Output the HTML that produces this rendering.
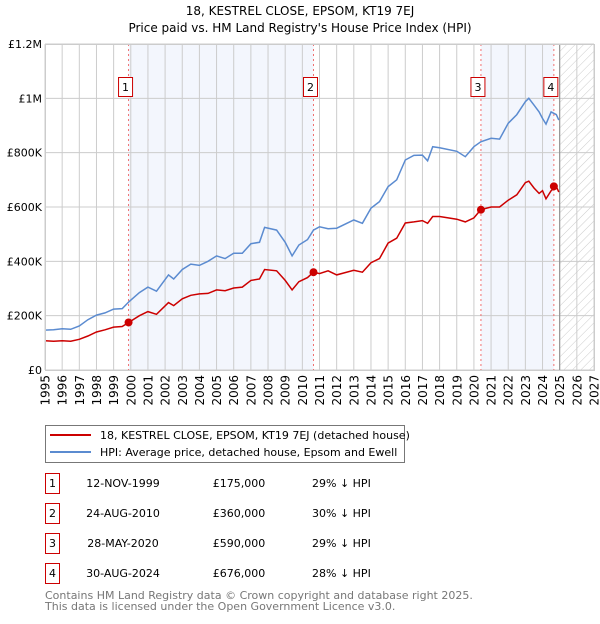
<!DOCTYPE html>
<html><head><meta charset="utf-8"><style>
body{margin:0;background:#fff;font-family:"DejaVu Sans","Liberation Sans",sans-serif;}
svg text{font-family:"DejaVu Sans","Liberation Sans",sans-serif;}
</style></head><body>
<svg id="c" width="600" height="620" viewBox="0 0 600 620" xmlns="http://www.w3.org/2000/svg">
<defs><pattern id="hatch" width="6" height="6" patternUnits="userSpaceOnUse" patternTransform="rotate(45)"><line x1="0" y1="0" x2="0" y2="6" stroke="#ccc" stroke-width="1"/></pattern></defs>
<text x="300" y="15" text-anchor="middle" font-size="12">18, KESTREL CLOSE, EPSOM, KT19 7EJ</text>
<text x="300" y="32" text-anchor="middle" font-size="12">Price paid vs. HM Land Registry's House Price Index (HPI)</text>
<g id="plot"></g>
<g>
<rect x="45.5" y="425.5" width="359" height="37" fill="#fff" stroke="#777"/>
<line x1="50" y1="435" x2="91" y2="435" stroke="#cc0000" stroke-width="2"/>
<text x="100" y="439" font-size="11">18, KESTREL CLOSE, EPSOM, KT19 7EJ (detached house)</text>
<line x1="50" y1="452" x2="91" y2="452" stroke="#5b8bd0" stroke-width="2"/>
<text x="100" y="456" font-size="11">HPI: Average price, detached house, Epsom and Ewell</text>
</g>
<g id="table" font-size="11"></g>
<text x="45" y="599" font-size="11" fill="#777">Contains HM Land Registry data © Crown copyright and database right 2025.</text>
<text x="45" y="610" font-size="11" fill="#777">This data is licensed under the Open Government Licence v3.0.</text>
</svg>
<script>
const hpiYears=[1995,1995.5,1996,1996.5,1997,1997.5,1998,1998.5,1999,1999.5,1999.87,2000.5,2001,2001.5,2002.2,2002.5,2003,2003.5,2004,2004.5,2005,2005.5,2006,2006.5,2007,2007.5,2007.8,2008.5,2009,2009.4,2009.8,2010.3,2010.65,2011,2011.5,2012,2013,2013.5,2014,2014.5,2015,2015.5,2016,2016.5,2017,2017.3,2017.6,2018,2019,2019.5,2020,2020.4,2021,2021.5,2022,2022.5,2023,2023.2,2023.5,2023.8,2024,2024.2,2024.5,2024.8,2024.95];
const hpiValues=[147000,148000,152000,150000,162000,185000,202000,210000,224000,226000,250000,285000,305000,290000,350000,335000,370000,390000,385000,400000,420000,410000,430000,430000,465000,470000,525000,515000,470000,420000,460000,480000,515000,527000,520000,522000,552000,540000,596000,620000,675000,700000,773000,790000,791000,770000,822000,818000,805000,785000,822000,840000,853000,850000,908000,940000,988000,1000000,975000,950000,926000,905000,950000,940000,920000];
const priceYears=hpiYears;
const priceValues=[108000,106000,108000,106000,113000,125000,140000,148000,158000,160000,175000,200000,215000,205000,248000,237000,262000,275000,280000,282000,295000,292000,302000,305000,330000,335000,370000,365000,330000,295000,325000,340000,360000,355000,365000,350000,367000,360000,395000,410000,467000,485000,541000,545000,550000,540000,565000,565000,555000,545000,560000,590000,600000,600000,625000,645000,690000,695000,670000,650000,660000,630000,660000,676000,655000];
const saleLabels=["1","2","3","4"];
const saleYears=[1999.87,2010.65,2020.41,2024.66];
const salePrices=[175000,360000,590000,676000];
const saleDates=["12-NOV-1999","24-AUG-2010","28-MAY-2020","30-AUG-2024"];
const salePriceText=["£175,000","£360,000","£590,000","£676,000"];
const saleDiff=["29% ↓ HPI","30% ↓ HPI","29% ↓ HPI","28% ↓ HPI"];
const yTicks=[0,200000,400000,600000,800000,1000000,1200000];
const yTickLabels=["£0","£200K","£400K","£600K","£800K","£1M","£1.2M"];
const xTicks=[];for(let y=1995;y<=2027;y++)xTicks.push(y);
const x0=45,x1=594,y0=370,y1=44;
const X=v=>x0+(v-1995)/(2027-1995)*(x1-x0);
const Y=v=>y0-v/1200000*(y0-y1);
const NS="http://www.w3.org/2000/svg";
const plot=document.getElementById('plot');
function mk(tag,attrs,parent){const e=document.createElementNS(NS,tag);for(const k in attrs)e.setAttribute(k,attrs[k]);(parent||plot).appendChild(e);return e;}
let e;
e=mk('rect',{x:x0,y:y1,width:x1-x0,height:y0-y1,fill:'#fff'});

e=mk('rect',{x:X(saleYears[0]),y:y1,width:X(saleYears[1])-X(saleYears[0]),height:y0-y1,fill:'#f3f6fd'});

e=mk('rect',{x:X(saleYears[2]),y:y1,width:X(saleYears[3])-X(saleYears[2]),height:y0-y1,fill:'#f3f6fd'});

e=mk('rect',{x:X(2025),y:y1,width:x1-X(2025),height:y0-y1,fill:'url(#hatch)'});

xTicks.forEach((t,i)=>{
 e=mk('line',{x1:X(t),x2:X(t),y1:y1,y2:y0,stroke:'#ccc'});
 
 e=mk('text',{x:0,y:0,transform:`translate(${X(t)+4.5},${y0+5}) rotate(-90)`,'text-anchor':'end','font-size':12});
 e.textContent=t;
 
});
yTicks.forEach((t,i)=>{
 e=mk('line',{x1:x0,x2:x1,y1:Y(t),y2:Y(t),stroke:'#ccc'});
 
 e=mk('text',{x:x0-3,y:Y(t)+4,'text-anchor':'end','font-size':11});
 e.textContent=yTickLabels[i];
 
});
e=mk('line',{x1:X(2025),x2:X(2025),y1:y1,y2:y0,stroke:'#888'});

saleYears.forEach((s,i)=>{
 e=mk('line',{x1:X(s),x2:X(s),y1:y1,y2:y0,stroke:'#f07070','stroke-dasharray':'2,3'});
 
});
e=mk('path',{d:hpiYears.map((v,i)=>(i?'L':'M')+X(v).toFixed(1)+','+Y(hpiValues[i]).toFixed(1)).join(''),fill:'none',stroke:'#5b8bd0','stroke-width':1.5});

e=mk('path',{d:priceYears.map((v,i)=>(i?'L':'M')+X(v).toFixed(1)+','+Y(priceValues[i]).toFixed(1)).join(''),fill:'none',stroke:'#cc0000','stroke-width':1.5});

saleYears.forEach((s,i)=>{
 e=mk('circle',{cx:X(s),cy:Y(salePrices[i]),r:4,fill:'#cc0000'});
 
 e=mk('rect',{x:X(s)-10,y:77.5,width:14,height:19,fill:'#fff',stroke:'#cc0000'});
 
 e=mk('text',{x:X(s)-3,y:91,'text-anchor':'middle','font-size':11});
 e.textContent=saleLabels[i];
 
});
e=mk('rect',{x:x0+.5,y:y1+.5,width:x1-x0,height:y0-y1,fill:'none',stroke:'#ccc'});

const tb=document.getElementById('table');
saleLabels.forEach((l,i)=>{
 const cy=483+i*30;
 e=mk('rect',{x:45.5,y:cy-9.5,width:14,height:20,fill:'#fff',stroke:'#cc0000'},tb);
 
 e=mk('text',{x:52.5,y:cy+4,'text-anchor':'middle'},tb);e.textContent=l;
 
 e=mk('text',{x:123,y:cy+4,'text-anchor':'middle'},tb);e.textContent=saleDates[i];
 
 e=mk('text',{x:239,y:cy+4,'text-anchor':'middle'},tb);e.textContent=salePriceText[i];
 
 e=mk('text',{x:312,y:cy+4},tb);e.textContent=saleDiff[i];
 
});
</script>
</body></html>
